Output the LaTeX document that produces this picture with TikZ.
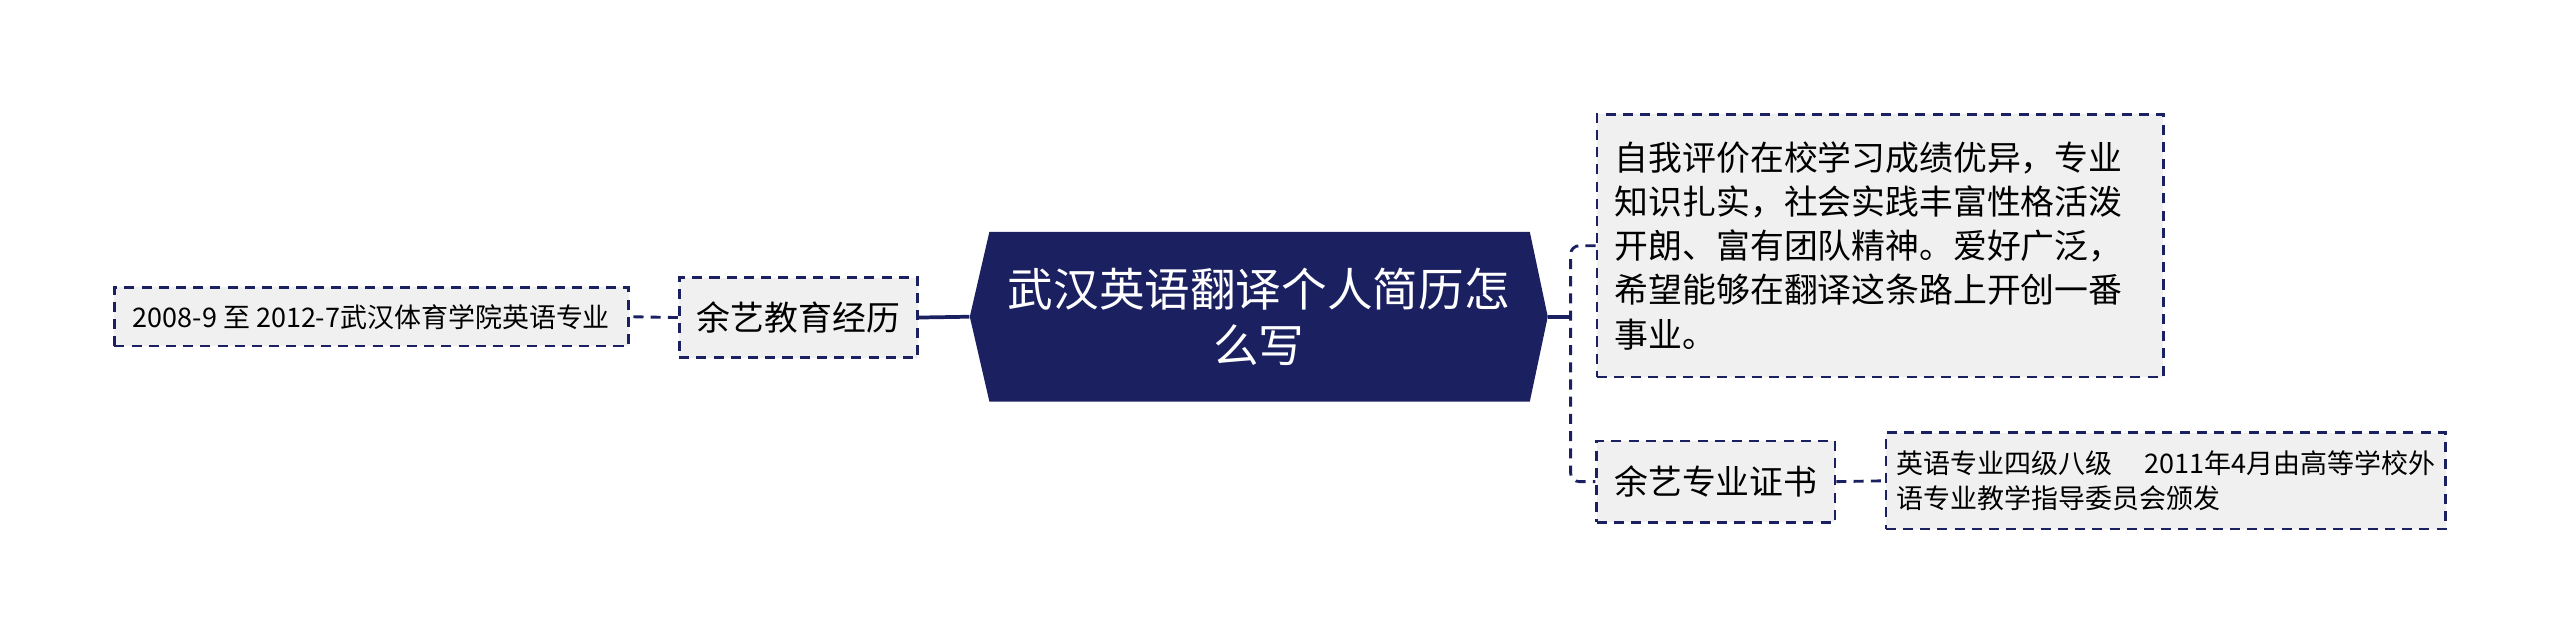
\documentclass[tikz,border=0pt]{standalone}
\usepackage{fontspec}
\newfontfamily\cjk{Noto Sans CJK SC}
\definecolor{navy}{RGB}{27,32,96}
\definecolor{boxgray}{RGB}{240,240,240}
\begin{document}
\begin{tikzpicture}[x=0.02cm,y=-0.02cm,
  topic/.style={draw=navy,fill=boxgray,dash pattern=on 3.5pt off 2.5pt,line width=0.9pt,inner sep=0pt,font=\cjk\fontsize{11.8}{15.4}\selectfont},
  leaf/.style={topic,font=\cjk\fontsize{9.4}{12}\selectfont},
  link/.style={navy,line width=1pt,dash pattern=on 3.5pt off 2.5pt}]
\useasboundingbox (0,0) rectangle (1568,394);
% title shape
\fill[navy](594,194)--(606,142)--(937,142)--(948,194)--(937,246)--(606,246)--cycle;
\node[minimum width=7.08cm,minimum height=2.08cm,inner sep=0pt,text=white,align=center,font=\cjk\fontsize{15.9}{19.5}\selectfont] (title) at (771,194) {武汉英语翻译个人简历怎\\么写};
\node[topic,minimum width=2.92cm,minimum height=0.98cm] (edu) at (489,194.5) {余艺教育经历};
\node[leaf,minimum width=6.3cm,minimum height=0.72cm] (eduleaf) at (227.5,194) {2008-9 至 2012-7武汉体育学院英语专业};
\node[topic,minimum width=6.94cm,minimum height=3.22cm,text width=6.5cm,align=left] (eval) at (1151.5,150.5) {自我评价在校学习成绩优异，专业\\知识扎实，社会实践丰富性格活泼\\开朗、富有团队精神。爱好广泛，\\希望能够在翻译这条路上开创一番\\事业。};
\node[topic,minimum width=2.92cm,minimum height=1cm] (cert) at (1051,295) {余艺专业证书};
\node[leaf,minimum width=6.86cm,minimum height=1.18cm,align=left] (certleaf) at (1326.5,294.5) {英语专业四级八级\hspace{1.2em}2011年4月由高等学校外\\语专业教学指导委员会颁发};
\coordinate (hub) at (962,194);
\draw[navy,line width=1.3pt](title.west)--(edu.east);
\draw[link](edu.west)--(eduleaf.east);
\draw[navy,line width=1.3pt](title.east)--(hub);
\draw[link,rounded corners=3pt](eval.west)-|(hub)|-(cert.west);
\draw[link](cert.east)--(certleaf.west);
\end{tikzpicture}
\end{document}
